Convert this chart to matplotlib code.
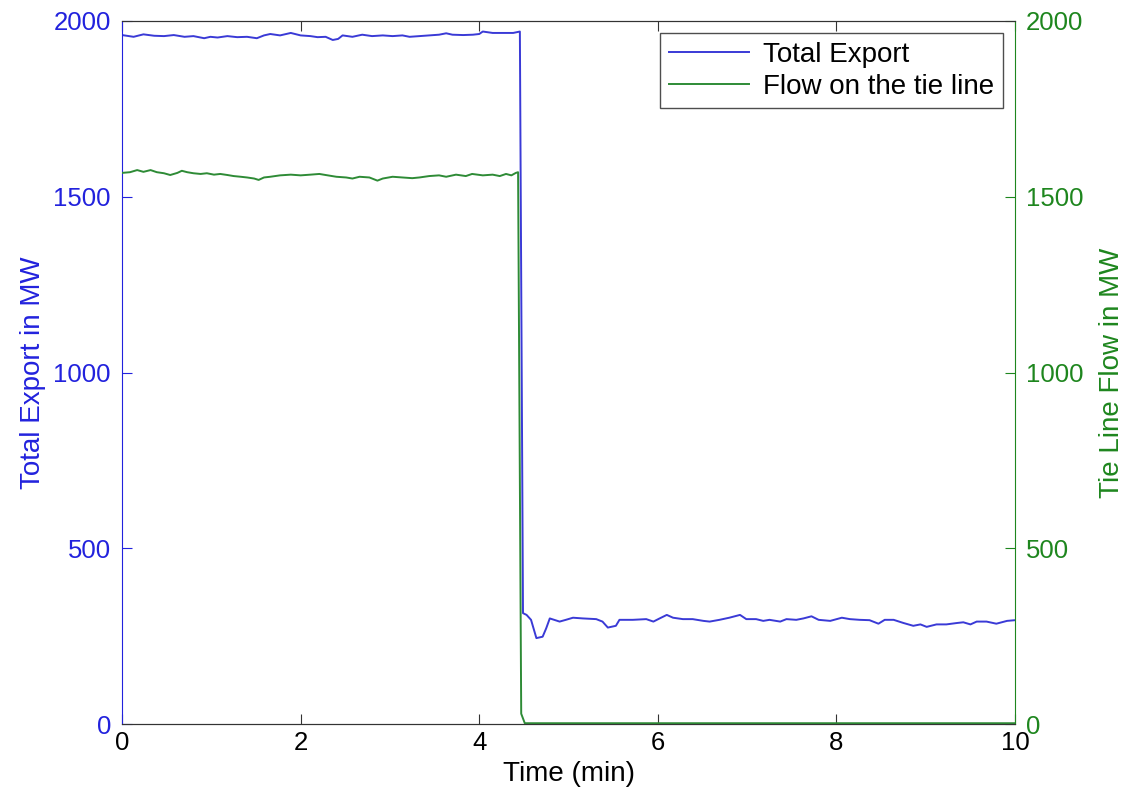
import matplotlib
matplotlib.use("Agg")
import matplotlib.pyplot as plt

plt.rcParams['font.family'] = ['Liberation Sans', 'DejaVu Sans']

# Total export (MW) versus time (min)
t_export = [0.00, 0.13, 0.24, 0.36, 0.47, 0.58, 0.70, 0.80, 0.92, 0.99, 1.07, 1.18,
            1.29, 1.40, 1.51, 1.59, 1.66, 1.77, 1.89, 2.00, 2.11, 2.19, 2.28, 2.36,
            2.42, 2.47, 2.58, 2.69, 2.80, 2.92, 3.03, 3.14, 3.22, 3.33, 3.44, 3.55,
            3.63, 3.70, 3.82, 3.93, 4.00, 4.04, 4.15, 4.26, 4.38, 4.455,
            4.49, 4.53, 4.58, 4.64, 4.71, 4.75, 4.79, 4.90, 4.97, 5.05, 5.16, 5.31,
            5.38, 5.44, 5.53, 5.57, 5.72, 5.87, 5.95, 6.02, 6.10, 6.17, 6.28, 6.39,
            6.51, 6.58, 6.69, 6.80, 6.92, 6.99, 7.10, 7.18, 7.25, 7.37, 7.44, 7.55,
            7.63, 7.72, 7.80, 7.93, 8.06, 8.15, 8.26, 8.37, 8.47, 8.54, 8.64, 8.75,
            8.86, 8.94, 9.01, 9.12, 9.23, 9.35, 9.42, 9.50, 9.57, 9.68, 9.79, 9.91,
            10.00]
export_mw = [1960, 1955, 1962, 1958, 1957, 1960, 1955, 1957, 1951, 1955, 1953, 1957,
             1954, 1955, 1951, 1959, 1963, 1959, 1966, 1959, 1957, 1954, 1955, 1946,
             1949, 1959, 1955, 1961, 1957, 1959, 1957, 1959, 1955, 1957, 1959, 1961,
             1965, 1961, 1960, 1961, 1963, 1970, 1966, 1966, 1966, 1970,
             316, 311, 297, 245, 249, 273, 301, 292, 297, 303, 301, 299,
             292, 275, 280, 297, 297, 299, 292, 301, 311, 303, 299, 299,
             294, 292, 297, 303, 311, 299, 299, 294, 297, 292, 299, 297,
             301, 307, 297, 294, 303, 299, 297, 296, 286, 297, 297, 288,
             280, 284, 277, 284, 284, 288, 290, 284, 292, 292, 286, 294,
             296]

# Flow on the tie line (MW) versus time (min)
t_tie = [0.00, 0.09, 0.17, 0.24, 0.32, 0.39, 0.47, 0.54, 0.62, 0.67, 0.73, 0.80,
         0.88, 0.95, 1.03, 1.10, 1.18, 1.25, 1.33, 1.40, 1.48, 1.53, 1.59, 1.66,
         1.77, 1.89, 2.00, 2.11, 2.21, 2.28, 2.40, 2.51, 2.58, 2.66, 2.77, 2.86,
         2.92, 3.03, 3.14, 3.25, 3.33, 3.44, 3.55, 3.63, 3.74, 3.85, 3.92, 4.04,
         4.15, 4.23, 4.30, 4.36, 4.41, 4.435, 4.47, 4.51, 10.00]
tie_mw = [1568, 1570, 1576, 1571, 1576, 1570, 1567, 1562, 1568, 1574, 1570, 1567,
          1565, 1567, 1563, 1565, 1562, 1559, 1557, 1555, 1552, 1548, 1555, 1557,
          1561, 1563, 1561, 1563, 1565, 1562, 1557, 1555, 1552, 1557, 1555, 1546,
          1552, 1557, 1555, 1553, 1555, 1559, 1561, 1557, 1563, 1559, 1565, 1561,
          1563, 1559, 1565, 1561, 1568, 1570, 30, 3, 3]

x_ticks = [0, 2, 4, 6, 8, 10]
y_ticks = [0, 500, 1000, 1500, 2000]

BLUE_TXT = '#2222dd'
BLUE_LINE = '#3a3ad6'
GREEN_TXT = '#1e861e'
GREEN_LINE = '#2e8b36'

fig = plt.figure(figsize=(11.38, 7.98), dpi=100)
ax1 = fig.add_axes([0.1072, 0.0924, 0.7848, 0.8813])
ax2 = ax1.twinx()

l1, = ax1.plot(t_export, export_mw, color=BLUE_LINE, lw=1.4, label='Total Export')
l2, = ax2.plot(t_tie, tie_mw, color=GREEN_LINE, lw=1.4, label='Flow on the tie line')

for ax in (ax1, ax2):
    ax.set_xlim(0, 10)
    ax.set_ylim(0, 2000)
    ax.set_yticks(y_ticks)

ax1.set_xticks(x_ticks)
ax1.tick_params(axis='x', direction='in', top=True, length=7, labelsize=18.5, pad=5,
                color='#333333')
ax1.tick_params(axis='y', direction='in', length=7, labelsize=18.5, colors=BLUE_TXT, pad=8)
ax2.tick_params(axis='y', direction='in', length=7, labelsize=18.5, colors=GREEN_TXT, pad=8)

ax1.spines['left'].set_color(BLUE_TXT)
ax1.spines['right'].set_visible(False)
ax2.spines['left'].set_visible(False)
ax2.spines['right'].set_color(GREEN_TXT)
for ax in (ax1, ax2):
    ax.spines['top'].set_color('#333333')
    ax.spines['bottom'].set_color('#333333')

ax1.set_xlabel('Time (min)', fontsize=20, labelpad=4)
ax1.set_ylabel('Total Export in MW', fontsize=20, color=BLUE_TXT, labelpad=5)
ax2.set_ylabel('Tie Line Flow in MW', fontsize=20, color=GREEN_TXT, labelpad=11)

leg = ax2.legend(handles=[l1, l2], loc='upper right', fontsize=20, frameon=True,
                 fancybox=False, edgecolor='#222222', borderpad=0.3,
                 handlelength=2.9, handletextpad=0.5, labelspacing=0.22,
                 borderaxespad=0.45)
leg.get_frame().set_linewidth(1.0)

fig.savefig('out.png', dpi=100)
